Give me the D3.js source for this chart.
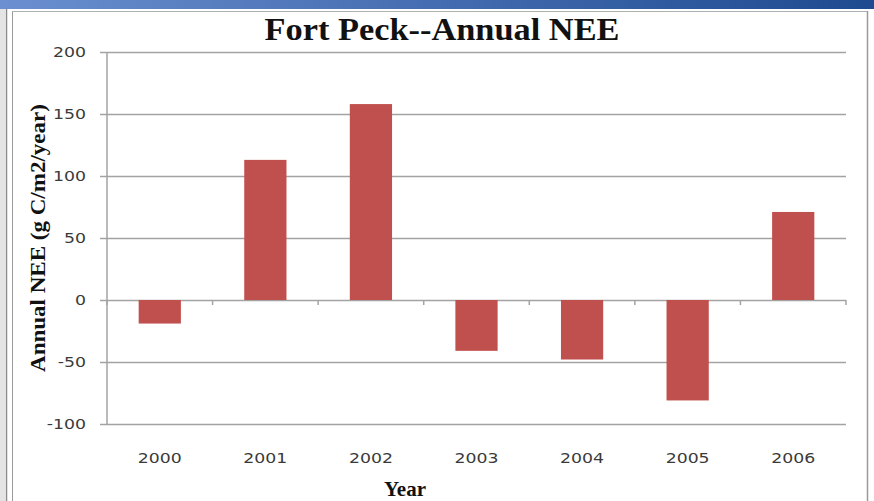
<!DOCTYPE html>
<html>
<head>
<meta charset="utf-8">
<script src="https://cdn.jsdelivr.net/npm/d3@7"></script>
<style>
  html, body { margin: 0; padding: 0; background: #ffffff; }
  svg { display: block; }
</style>
</head>
<body>
<script>
// Annual net ecosystem exchange at Fort Peck
const years = ["2000", "2001", "2002", "2003", "2004", "2005", "2006"];
const neeValues = [-19, 113, 158, -41, -48, -81, 71];
const yTicks = [-100, -50, 0, 50, 100, 150, 200];

const W = 874, H = 501;
const margin = { left: 107, right: 28, top: 52, bottom: 77 };

const svg = d3.select("body").append("svg")
  .attr("width", W).attr("height", H);

// Slide frame: blue header strip and grey side rules
const grad = svg.append("defs").append("linearGradient")
  .attr("id", "hdr").attr("x1", "0").attr("x2", "1");
grad.append("stop").attr("offset", "0").attr("stop-color", "#6b8fd0");
grad.append("stop").attr("offset", "1").attr("stop-color", "#1e4a90");
svg.append("rect").attr("x", 0).attr("y", 0).attr("width", W).attr("height", 9)
  .attr("fill", "url(#hdr)");
svg.append("rect").attr("x", 0).attr("y", 9).attr("width", 5).attr("height", H - 9)
  .attr("fill", "#e4e4e4");
svg.append("line").attr("x1", 6.5).attr("x2", 6.5).attr("y1", 9).attr("y2", H)
  .attr("stroke", "#8a8a8a").attr("stroke-width", 1.5);
svg.append("line").attr("x1", 12.5).attr("x2", 12.5).attr("y1", 11).attr("y2", H)
  .attr("stroke", "#9a9a9a").attr("stroke-width", 1);
svg.append("line").attr("x1", 12).attr("x2", 868).attr("y1", 11.5).attr("y2", 11.5)
  .attr("stroke", "#b0b0b0").attr("stroke-width", 1);
svg.append("line").attr("x1", 867.5).attr("x2", 867.5).attr("y1", 11).attr("y2", H)
  .attr("stroke", "#9a9a9a").attr("stroke-width", 1.5);

const x = d3.scaleBand()
  .domain(years)
  .range([margin.left, W - margin.right])
  .paddingInner(0.6)
  .paddingOuter(0.3);

const y = d3.scaleLinear()
  .domain([-100, 200])
  .range([424, margin.top]);

const plotL = margin.left, plotR = W - margin.right;

// Wide, light numerals for the tick labels
const tickFont = { family: "DejaVu Sans, sans-serif", size: 13.5, stretch: 1.28, color: "#3a3a3a" };
function widen(sel) {
  sel.attr("font-family", tickFont.family)
    .attr("font-size", tickFont.size)
    .attr("fill", tickFont.color)
    .each(function () {
      const w = this.getComputedTextLength();
      d3.select(this).attr("textLength", w * tickFont.stretch)
        .attr("lengthAdjust", "spacingAndGlyphs");
    });
}

// Horizontal gridlines with outward ticks
const yAxis = d3.axisLeft(y).tickValues(yTicks)
  .tickSize(-(plotR - plotL)).tickPadding(15)
  .tickFormat(d3.format("d"));
const gy = svg.append("g").attr("transform", `translate(${plotL},0)`).call(yAxis);
gy.select(".domain").remove();
gy.selectAll(".tick line")
  .attr("x1", -7)
  .attr("stroke", "#a3a3a3").attr("stroke-width", 1.5);
gy.selectAll(".tick text").attr("x", -21).text((d) => String(d).replace("\u2212", "-"));
gy.selectAll(".tick text").call(widen);

// Vertical axis line
svg.append("line").attr("x1", plotL).attr("x2", plotL)
  .attr("y1", y(200)).attr("y2", y(-100))
  .attr("stroke", "#a3a3a3").attr("stroke-width", 1.5);

// Bars
svg.append("g").selectAll("rect").data(years).join("rect")
  .attr("x", (d) => x(d))
  .attr("width", x.bandwidth())
  .attr("y", (d, i) => y(Math.max(0, neeValues[i])))
  .attr("height", (d, i) => Math.abs(y(neeValues[i]) - y(0)))
  .attr("fill", "#c0504d");

// Category axis along zero, with ticks between categories
const step = (plotR - plotL) / years.length;
svg.append("g").selectAll("line").data(d3.range(years.length + 1)).join("line")
  .attr("x1", (i) => plotL + i * step).attr("x2", (i) => plotL + i * step)
  .attr("y1", y(0)).attr("y2", y(0) + 5)
  .attr("stroke", "#a3a3a3").attr("stroke-width", 1.5);

// Category labels below the plot
svg.append("g").selectAll("text").data(years).join("text")
  .attr("x", (d) => x(d) + x.bandwidth() / 2)
  .attr("y", 463)
  .attr("text-anchor", "middle")
  .text((d) => d)
  .call(widen);

// Titles
svg.append("text")
  .attr("x", 442).attr("y", 40)
  .attr("text-anchor", "middle")
  .attr("font-family", "Liberation Serif, serif")
  .attr("font-weight", "bold").attr("font-size", 31)
  .attr("textLength", 355).attr("lengthAdjust", "spacingAndGlyphs")
  .attr("fill", "#111")
  .text("Fort Peck--Annual NEE");

svg.append("text")
  .attr("x", 405).attr("y", 496)
  .attr("text-anchor", "middle")
  .attr("font-family", "Liberation Serif, serif")
  .attr("font-weight", "bold").attr("font-size", 21)
  .attr("fill", "#111")
  .text("Year");

svg.append("text")
  .attr("transform", `translate(45,${(y(200) + y(-100)) / 2}) rotate(-90)`)
  .attr("text-anchor", "middle")
  .attr("font-family", "Liberation Serif, serif")
  .attr("font-weight", "bold").attr("font-size", 20)
  .attr("textLength", 268).attr("lengthAdjust", "spacingAndGlyphs")
  .attr("fill", "#111")
  .text("Annual NEE (g C/m2/year)");
</script>
</body>
</html>
